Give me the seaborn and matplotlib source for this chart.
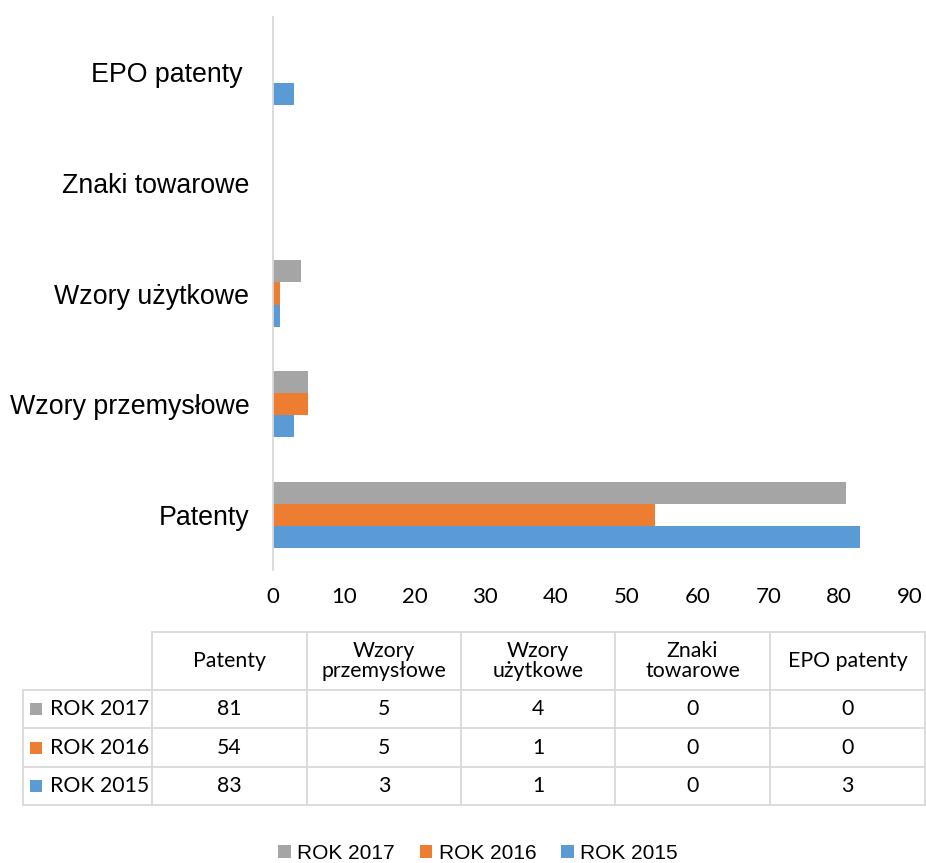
import matplotlib
matplotlib.use("Agg")
import matplotlib.pyplot as plt
import seaborn as sns
import pandas as pd

# dane z wykresu
kategorie = ["Patenty", "Wzory przemysłowe", "Wzory użytkowe", "Znaki towarowe", "EPO patenty"]
naglowki_tabeli = ["Patenty", "Wzory\nprzemysłowe", "Wzory\nużytkowe", "Znaki\ntowarowe", "EPO patenty"]
lata = ["ROK 2017", "ROK 2016", "ROK 2015"]
rok_2017 = [81, 5, 4, 0, 0]
rok_2016 = [54, 5, 1, 0, 0]
rok_2015 = [83, 3, 1, 0, 3]
kolory = {"ROK 2017": "#A5A5A5", "ROK 2016": "#ED7D31", "ROK 2015": "#5B9BD5"}

wartosci = {"ROK 2017": rok_2017, "ROK 2016": rok_2016, "ROK 2015": rok_2015}
rows = []
for rok in lata:
    for kat, v in zip(kategorie, wartosci[rok]):
        rows.append({"Kategoria": kat, "Rok": rok, "Liczba": v})
df = pd.DataFrame(rows)

sns.set_style("white")
plt.rcParams["text.color"] = "#000000"
W, H = 926, 863
fig = plt.figure(figsize=(W / 100, H / 100), dpi=100)

# wykres slupkowy
ax = fig.add_axes([273 / W, 1 - 570 / H, (910 - 273) / W, (570 - 17) / H])
sns.barplot(data=df, x="Liczba", y="Kategoria", hue="Rok", orient="h",
            order=kategorie[::-1], hue_order=lata, palette=kolory,
            width=0.6, saturation=1, linewidth=0, ax=ax)
ax.set_xlim(0, 90)
ax.set_xticks(range(0, 91, 10))
ax.set_xlabel("")
ax.set_ylabel("")
# w oryginale etykieta EPO ma spacje na koncu
ax.set_yticks(range(len(kategorie)))
ax.set_yticklabels([k + " " if k == "EPO patenty" else k for k in kategorie[::-1]])
for s in ["top", "right", "bottom"]:
    ax.spines[s].set_visible(False)
ax.spines["left"].set_color("#D9D9D9")
ax.spines["left"].set_linewidth(1.3)
ax.tick_params(axis="both", length=0, labelcolor="#000000")
ax.tick_params(axis="y", pad=17)
ax.tick_params(axis="x", pad=12)
for t in ax.get_yticklabels():
    t.set_fontfamily("Liberation Sans")
    t.set_fontsize(19.3)
for t in ax.get_xticklabels():
    t.set_fontfamily("Lato")
    t.set_fontsize(16)

sns.move_legend(ax, loc="center", bbox_to_anchor=(478 / W, 1 - 853 / H),
                bbox_transform=fig.transFigure, ncol=3, frameon=False,
                handlelength=0.6, handleheight=0.6, handletextpad=0.3,
                columnspacing=1.2, title=None,
                prop={"family": "Liberation Sans", "size": 15})

# tabela danych pod wykresem
tab = fig.add_axes([0, 0, 1, 1])
tab.set_xlim(0, W)
tab.set_ylim(H, 0)
tab.axis("off")
linia = dict(color="#D9D9D9", lw=1.3)
kol_x = [152, 307, 461, 615, 770, 925]
wiersz_y = [632, 690, 728, 767, 805]
tab.plot([152, 925], [632, 632], **linia)
for y in wiersz_y[1:]:
    tab.plot([23, 925], [y, y], **linia)
for x in kol_x:
    tab.plot([x, x], [632, 805], **linia)
tab.plot([23, 23], [690, 805], **linia)

font_tab = dict(family="Lato", size=15.3, color="#000000")
for i, nagl in enumerate(naglowki_tabeli):
    cx = (kol_x[i] + kol_x[i + 1]) / 2
    tab.text(cx, 661, nagl, ha="center", va="center", linespacing=1.05, **font_tab)
for j, rok in enumerate(lata):
    cy = (wiersz_y[j + 1] + wiersz_y[j + 2]) / 2
    tab.scatter([36], [cy], marker="s", s=85, color=kolory[rok], linewidths=0)
    tab.text(50, cy, rok, ha="left", va="center", **font_tab)
    for i, v in enumerate(wartosci[rok]):
        cx = (kol_x[i] + kol_x[i + 1]) / 2
        tab.text(cx, cy, str(v), ha="center", va="center", **font_tab)

fig.savefig("out.png", dpi=100)
